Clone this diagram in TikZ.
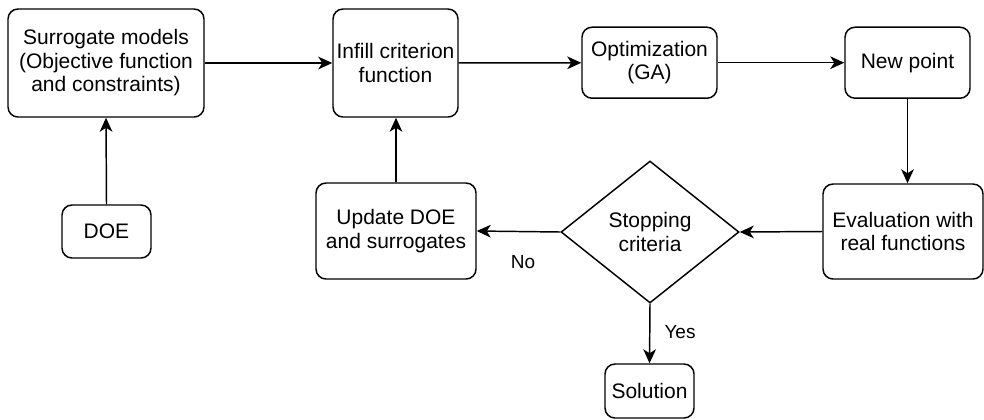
\documentclass[tikz,border=0pt]{standalone}
\usepackage{fontspec}
\setmainfont{Liberation Sans}
\usetikzlibrary{shapes.geometric,arrows.meta}
\tikzset{
  box/.style={draw, line width=1.1pt, rounded corners=7.5pt, align=center, inner sep=0pt,
    font=\fontsize{15.75}{17.6}\selectfont},
  dia/.style={draw, line width=1.1pt, diamond, align=center, inner sep=0pt,
    font=\fontsize{15.75}{17.6}\selectfont},
  arr/.style={line width=1.1pt, -{Stealth[length=10.5pt,width=9.5pt,inset=3pt]}},
  lbl/.style={font=\fontsize{14.25}{16}\selectfont, inner sep=0pt}
}
\begin{document}
\begin{tikzpicture}[x=0.75pt,y=-0.75pt]
\useasboundingbox (0,0) rectangle (984,419);
\node[box, minimum width=147pt, minimum height=81pt] (sur) at (106,63) {Surrogate models\\(Objective function\\and constraints)};
\node[box, minimum width=93.75pt, minimum height=81pt] (inf) at (395.5,63) {Infill criterion\\function};
\node[box, minimum width=101.25pt, minimum height=53.25pt] (opt) at (649.5,62.7) {Optimization\\(GA)};
\node[box, minimum width=93.75pt, minimum height=53.25pt] (np) at (907.5,62.7) {New point};
\node[box, minimum width=66.75pt, minimum height=39.75pt] (doe) at (106.5,231.5) {DOE};
\node[box, minimum width=120pt, minimum height=72pt] (upd) at (396,231) {Update DOE\\and surrogates};
\node[dia, minimum width=133.5pt, minimum height=106.5pt] (stop) at (650,232) {Stopping\\criteria};
\node[box, minimum width=120pt, minimum height=71.25pt] (eval) at (903,231.5) {Evaluation with\\real functions};
\node[box, minimum width=66.75pt, minimum height=40.5pt] (sol) at (649.5,391) {Solution};

\draw[arr] (sur) -- (inf);
\draw[arr] (inf) -- (opt);
\draw[arr] (opt) -- (np);
\draw[arr] (np.south) -- (np.south |- eval.north);
\draw[arr] (eval.west) -- (stop.east);
\draw[arr] (stop.west) -- (upd.east);
\draw[arr] (upd.north) -- (upd.north |- inf.south);
\draw[arr] (doe.north) -- (sur.south);
\draw[arr] (stop.south) -- (sol.north);

\node[lbl] (no) at (523,262) {No};
\node[lbl] (yes) at (680,332) {Yes};
\end{tikzpicture}
\end{document}
